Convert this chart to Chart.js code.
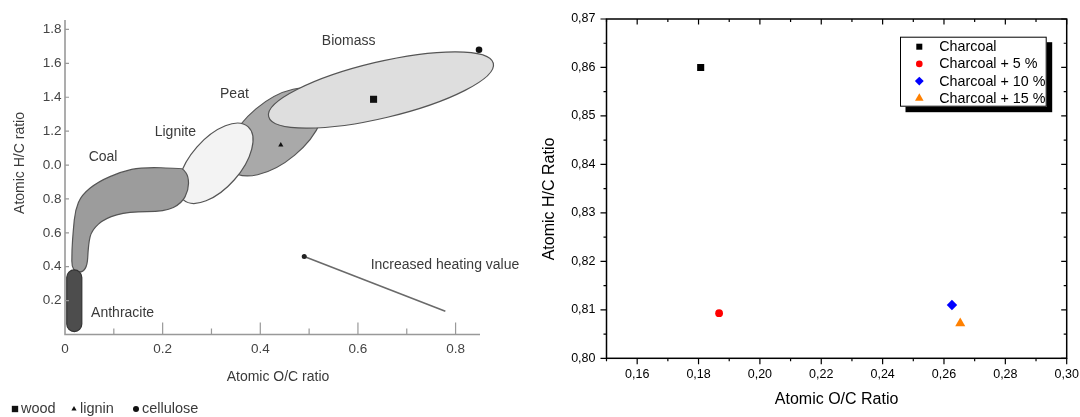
<!DOCTYPE html>
<html>
<head>
<meta charset="utf-8">
<script src="https://cdn.jsdelivr.net/npm/chart.js@4.4.1/dist/chart.umd.min.js"></script>
<style>
  html, body { margin: 0; padding: 0; background: #fff; }
  body { width: 1080px; height: 417px; position: relative; overflow: hidden; }
  .panel { position: absolute; top: 0; height: 417px; }
  #left { left: 0; width: 530px; }
  #right { left: 530px; width: 550px; }
  #vanKrevelen { filter: blur(0.45px); }
</style>
</head>
<body>
<div class="panel" id="left"><canvas id="vanKrevelen" width="530" height="417"></canvas></div>
<div class="panel" id="right"><canvas id="charcoalChart" width="550" height="417"></canvas></div>
<script>
// right panel: measured samples
const sampleLabels = ['Charcoal', 'Charcoal + 5 %', 'Charcoal + 10 %', 'Charcoal + 15 %'];
const sampleOC = [0.1807, 0.1867, 0.2626, 0.2653];
const sampleHC = [0.8600, 0.8093, 0.8110, 0.8072];
const ocTicks = [0.16, 0.18, 0.20, 0.22, 0.24, 0.26, 0.28, 0.30];
const ocTickLabels = ['0,16', '0,18', '0,20', '0,22', '0,24', '0,26', '0,28', '0,30'];
const hcTicks = [0.80, 0.81, 0.82, 0.83, 0.84, 0.85, 0.86, 0.87];
const hcTickLabels = ['0,80', '0,81', '0,82', '0,83', '0,84', '0,85', '0,86', '0,87'];

// left panel: reference Van Krevelen diagram
const refLabels = ['wood', 'lignin', 'cellulose'];
const refOC = [0.632, 0.442, 0.848];
const refHC = [1.388, 1.118, 1.680];
const vkXTicks = [0, 0.2, 0.4, 0.6, 0.8];
const vkXTickLabels = ['0', '0.2', '0.4', '0.6', '0.8'];
const vkYTicks = [0.2, 0.4, 0.6, 0.8, 1.0, 1.2, 1.4, 1.6, 1.8];
const vkYTickLabels = ['0.2', '0.4', '0.6', '0.8', '0.0', '1.2', '1.4', '1.6', '1.8'];
const arrowOC = [0.490, 0.779];
const arrowHC = [0.460, 0.137];

const FONT = "'Liberation Sans', Arial, Helvetica, sans-serif";
const sampleColors = ['#000000', '#ff0000', '#0000ff', '#ff8000'];
const sampleStyles = ['rect', 'circle', 'rectRot', 'triangle'];
const sampleRadius = [5, 3.9, 5.2, 5.8];
const refStyles = ['rect', 'triangle', 'circle'];
const refRadius = [5, 3, 3.3];

// region outlines in data units (O/C, H/C)
const regions = {
  peat: { c: [0.4308, 1.195], end: [0.3397, 0.975], ratio: 0.52, fill: '#a9a9a9' },
  lignite: { c: [0.3087, 1.0104], end: [0.3748, 1.2264], ratio: 0.51, fill: '#f3f3f3' },
  biomass: { c: [0.6472, 1.443], end: [0.8773, 1.6006], ratio: 0.243, fill: '#dedede' },
  coal: {
    fill: '#9c9c9c',
    outline: [
      [0.236, 0.981], [0.157, 0.987], [0.116, 0.961], [0.068, 0.902], [0.034, 0.823],
      [0.021, 0.735], [0.017, 0.617], [0.014, 0.499], [0.014, 0.369],
      [0.045, 0.369], [0.048, 0.538], [0.055, 0.617], [0.082, 0.686], [0.130, 0.725],
      [0.205, 0.725], [0.239, 0.774], [0.253, 0.853], [0.253, 0.931], [0.243, 0.975]
    ]
  },
  anthracite: { cx: 0.019, half: 0.0154, y0: 0.017, y1: 0.381, fill: '#4d4d4d' }
};
const regionText = [
  ['Coal', 0.078, 1.048], ['Lignite', 0.226, 1.195], ['Peat', 0.347, 1.419],
  ['Biomass', 0.581, 1.732], ['Anthracite', 0.118, 0.125]
];

function drawEllipse(ctx, x, y, r) {
  const cx = x.getPixelForValue(r.c[0]), cy = y.getPixelForValue(r.c[1]);
  const ex = x.getPixelForValue(r.end[0]), ey = y.getPixelForValue(r.end[1]);
  const a = Math.hypot(ex - cx, ey - cy);
  ctx.beginPath();
  ctx.ellipse(cx, cy, a, a * r.ratio, Math.atan2(ey - cy, ex - cx), 0, Math.PI * 2);
  ctx.fillStyle = r.fill;
  ctx.fill();
  ctx.stroke();
}

function smoothClosed(ctx, pts) {
  const n = pts.length;
  const mid = (a, b) => [(a[0] + b[0]) / 2, (a[1] + b[1]) / 2];
  const m = mid(pts[n - 1], pts[0]);
  ctx.beginPath();
  ctx.moveTo(m[0], m[1]);
  for (let i = 0; i < n; i++) {
    const p = pts[i], mm = mid(p, pts[(i + 1) % n]);
    ctx.quadraticCurveTo(p[0], p[1], mm[0], mm[1]);
  }
  ctx.closePath();
}

const vkPlugin = {
  id: 'vkRegions',
  beforeDatasetsDraw(chart) {
    const { ctx, scales: { x, y } } = chart;
    ctx.save();
    ctx.lineWidth = 1.2;
    ctx.strokeStyle = '#555';
    drawEllipse(ctx, x, y, regions.peat);
    drawEllipse(ctx, x, y, regions.lignite);
    // coal band
    smoothClosed(ctx, regions.coal.outline.map(p => [x.getPixelForValue(p[0]), y.getPixelForValue(p[1])]));
    ctx.fillStyle = regions.coal.fill;
    ctx.fill();
    ctx.stroke();
    // anthracite capsule
    const an = regions.anthracite;
    const acx = x.getPixelForValue(an.cx);
    const hw = x.getPixelForValue(an.cx + an.half) - acx;
    const top = y.getPixelForValue(an.y1) + hw, bot = y.getPixelForValue(an.y0) - hw;
    ctx.beginPath();
    ctx.arc(acx, top, hw, Math.PI, 0);
    ctx.lineTo(acx + hw, bot);
    ctx.arc(acx, bot, hw, 0, Math.PI);
    ctx.closePath();
    ctx.fillStyle = an.fill;
    ctx.fill();
    ctx.strokeStyle = '#333';
    ctx.stroke();
    ctx.strokeStyle = '#555';
    drawEllipse(ctx, x, y, regions.biomass);

    ctx.fillStyle = '#3a3a3a';
    ctx.font = '14px ' + FONT;
    ctx.textAlign = 'center';
    ctx.textBaseline = 'middle';
    regionText.forEach(([t, ox, hy]) => ctx.fillText(t, x.getPixelForValue(ox), y.getPixelForValue(hy)));
    ctx.textAlign = 'left';
    ctx.fillText('Increased heating value', x.getPixelForValue(0.626), y.getPixelForValue(0.41));
    ctx.restore();
  },
  afterDraw(chart) {
    const { ctx, chartArea: a, scales: { x, y } } = chart;
    ctx.save();
    ctx.strokeStyle = '#999';
    ctx.lineWidth = 1.6;
    ctx.beginPath();
    ctx.moveTo(a.left, a.top - 1);
    ctx.lineTo(a.left, a.bottom);
    ctx.lineTo(a.right, a.bottom);
    ctx.stroke();
    ctx.lineWidth = 1.2;
    ctx.beginPath();
    vkYTicks.forEach(v => { const py = y.getPixelForValue(v); ctx.moveTo(a.left, py); ctx.lineTo(a.left + 4, py); });
    for (let k = 1; k <= 8; k++) {
      const px = x.getPixelForValue(k / 10);
      ctx.moveTo(px, a.bottom);
      ctx.lineTo(px, a.bottom - (k % 2 === 0 ? 12 : 6));
    }
    ctx.stroke();

    ctx.fillStyle = '#3a3a3a';
    ctx.font = '14px ' + FONT;
    ctx.textAlign = 'center';
    ctx.textBaseline = 'middle';
    ctx.fillText('Atomic O/C ratio', 278, 377);
    ctx.save();
    ctx.translate(20, 163);
    ctx.rotate(-Math.PI / 2);
    ctx.fillText('Atomic H/C ratio', 0, 0);
    ctx.restore();

    // legend row under the plot
    const legendX = [15, 74, 136];
    ctx.font = '14.5px ' + FONT;
    ctx.textAlign = 'left';
    refLabels.forEach((lab, i) => {
      ctx.fillStyle = '#111';
      Chart.helpers.drawPoint(ctx, { pointStyle: refStyles[i], radius: i === 0 ? 4.5 : 3, borderWidth: 0, rotation: 0 }, legendX[i], 409);
      ctx.fillStyle = '#3a3a3a';
      ctx.fillText(lab, legendX[i] + 6, 409);
    });
    ctx.restore();
  }
};

const chargePlugin = {
  id: 'chargeFrame',
  afterDraw(chart) {
    const { ctx, chartArea: a, scales: { x, y } } = chart;
    ctx.save();
    ctx.strokeStyle = '#000';
    ctx.lineWidth = 1.5;
    ctx.strokeRect(a.left, a.top, a.right - a.left, a.bottom - a.top);
    ctx.lineWidth = 1.2;
    ctx.beginPath();
    for (let k = 0; k <= 15; k++) {
      const px = x.getPixelForValue(0.15 + k * 0.01);
      const major = k % 2 === 1;
      ctx.moveTo(px, a.bottom);
      ctx.lineTo(px, a.bottom + (major ? 6 : 3));
      ctx.moveTo(px, a.top);
      ctx.lineTo(px, a.top + (major ? 5.5 : 3));
    }
    for (let k = 0; k <= 14; k++) {
      const py = y.getPixelForValue(0.80 + k * 0.005);
      const major = k % 2 === 0;
      ctx.moveTo(a.left, py);
      ctx.lineTo(a.left - (major ? 6 : 3), py);
      ctx.moveTo(a.right, py);
      ctx.lineTo(a.right - (major ? 5.5 : 3), py);
    }
    ctx.stroke();

    ctx.fillStyle = '#000';
    ctx.font = '16px ' + FONT;
    ctx.textAlign = 'center';
    ctx.textBaseline = 'middle';
    ctx.fillText('Atomic O/C Ratio', (a.left + a.right) / 2, 400);
    ctx.save();
    ctx.translate(19.3, 199);
    ctx.rotate(-Math.PI / 2);
    ctx.fillText('Atomic H/C Ratio', 0, 0);
    ctx.restore();

    // boxed legend with drop shadow
    const bx = 370, by = 36.7, bw = 146.7, bh = 70;
    ctx.fillStyle = '#000';
    ctx.fillRect(bx + 5.5, by + 5.5, bw, bh);
    ctx.fillStyle = '#fff';
    ctx.fillRect(bx, by, bw, bh);
    ctx.lineWidth = 1;
    ctx.strokeRect(bx + 0.5, by + 0.5, bw - 1, bh - 1);
    ctx.font = '14.3px ' + FONT;
    ctx.textAlign = 'left';
    sampleLabels.forEach((lab, i) => {
      const ry = 46.7 + i * 17.2;
      ctx.fillStyle = sampleColors[i];
      Chart.helpers.drawPoint(ctx, { pointStyle: sampleStyles[i], radius: sampleRadius[i] * 0.85, borderWidth: 0, rotation: 0 }, 389.3, ry);
      ctx.fillStyle = '#000';
      ctx.fillText(lab, 409.3, ry + 0.5);
    });
    ctx.restore();
  }
};

function fixedTicks(values) {
  return scale => { scale.ticks = values.map(v => ({ value: v })); };
}

new Chart(document.getElementById('vanKrevelen'), {
  type: 'scatter',
  data: {
    datasets: [
      ...refLabels.map((label, i) => ({
        label,
        data: [{ x: refOC[i], y: refHC[i] }],
        pointStyle: refStyles[i],
        pointRadius: refRadius[i],
        backgroundColor: '#111',
        borderColor: '#111',
        borderWidth: 0,
        clip: false
      })),
      {
        label: 'heating value',
        data: arrowOC.map((v, i) => ({ x: v, y: arrowHC[i] })),
        showLine: true,
        borderColor: '#6a6a6a',
        borderWidth: 1.6,
        pointRadius: [2.5, 0],
        pointBackgroundColor: '#222',
        pointBorderWidth: 0
      }
    ]
  },
  options: {
    responsive: false,
    animation: false,
    layout: { padding: { left: 0, right: 50, top: 21, bottom: 0 } },
    plugins: { legend: { display: false }, tooltip: { enabled: false } },
    scales: {
      x: {
        type: 'linear', min: 0, max: 0.85,
        afterBuildTicks: fixedTicks(vkXTicks),
        afterFit: s => { s.height = 82.5; },
        grid: { display: false, drawTicks: false },
        border: { display: false },
        ticks: {
          autoSkip: false, maxRotation: 0, padding: 7, color: '#444',
          font: { size: 13.5, family: FONT },
          callback: (v, i) => vkXTickLabels[i]
        }
      },
      y: {
        type: 'linear', min: 0, max: 1.85,
        afterBuildTicks: fixedTicks(vkYTicks),
        afterFit: s => { s.width = 65; },
        grid: { display: false, drawTicks: false },
        border: { display: false },
        ticks: {
          autoSkip: false, padding: 3.5, color: '#444',
          font: { size: 13.5, family: FONT },
          callback: (v, i) => vkYTickLabels[i]
        }
      }
    }
  },
  plugins: [vkPlugin]
});

new Chart(document.getElementById('charcoalChart'), {
  type: 'scatter',
  data: {
    datasets: sampleLabels.map((label, i) => ({
      label,
      data: [{ x: sampleOC[i], y: sampleHC[i] }],
      pointStyle: sampleStyles[i],
      pointRadius: sampleRadius[i],
      backgroundColor: sampleColors[i],
      borderColor: sampleColors[i],
      borderWidth: 0
    }))
  },
  options: {
    responsive: false,
    animation: false,
    layout: { padding: { left: 0, right: 13.3, top: 19, bottom: 0 } },
    plugins: { legend: { display: false }, tooltip: { enabled: false } },
    scales: {
      x: {
        type: 'linear', min: 0.15, max: 0.30,
        afterBuildTicks: fixedTicks(ocTicks),
        afterFit: s => { s.height = 58.7; s.paddingLeft = 0; s.paddingRight = 0; },
        grid: { display: false, drawTicks: false },
        border: { display: false },
        ticks: {
          autoSkip: false, maxRotation: 0, padding: 9, color: '#000',
          font: { size: 12.5, family: FONT },
          callback: (v, i) => ocTickLabels[i]
        }
      },
      y: {
        type: 'linear', min: 0.80, max: 0.87,
        afterBuildTicks: fixedTicks(hcTicks),
        afterFit: s => { s.width = 76.5; s.paddingTop = 0; s.paddingBottom = 0; },
        grid: { display: false, drawTicks: false },
        border: { display: false },
        ticks: {
          autoSkip: false, padding: 11, color: '#000',
          font: { size: 12.5, family: FONT },
          callback: (v, i) => hcTickLabels[i]
        }
      }
    }
  },
  plugins: [chargePlugin]
});
</script>
</body>
</html>
